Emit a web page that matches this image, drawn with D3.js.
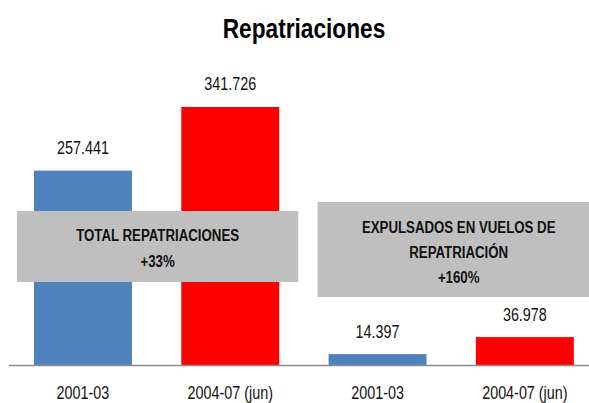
<!DOCTYPE html>
<html>
<head>
<meta charset="utf-8">
<script src="https://cdn.jsdelivr.net/npm/d3@7"></script>
<style>
  body { margin: 0; background: #fff; }
  svg { display: block; font-family: "Liberation Sans", Arial, sans-serif; }
</style>
</head>
<body>
<div id="chart"></div>
<script>
// Data
const categories = ["2001-03", "2004-07 (jun)", "2001-03", "2004-07 (jun)"];
const values = [257441, 341726, 14397, 36978];
const periods = ["2001-03", "2004-07", "2001-03", "2004-07"];
const boxLines = [
  ["TOTAL REPATRIACIONES", "+33%"],
  ["EXPULSADOS EN VUELOS DE", "REPATRIACIÓN", "+160%"]
];

const width = 589, height = 403;
const baseY = 365;
const narrow = 0.82; // fake "Arial Narrow" by squeezing Liberation Sans

const svg = d3.select("#chart")
  .append("svg")
  .attr("width", width)
  .attr("height", height);

// spanish number format 257.441
const es = d3.formatLocale({ decimal: ",", thousands: ".", grouping: [3], currency: ["", " €"] });
const fmt = es.format(",d");

const color = d3.scaleOrdinal()
  .domain(["2001-03", "2004-07"])
  .range(["#4F81BD", "#FF0000"]);

const xScale = d3.scaleBand()
  .domain(d3.range(categories.length))
  .range([9.3, 598.5])
  .paddingInner(0.335)
  .paddingOuter(0.1675);

const yScale = d3.scaleLinear()
  .domain([0, 400000])
  .range([baseY, baseY - 302]);

const place = (x, y, s = narrow) => `translate(${x},${y}) scale(${s},1)`;

// title
svg.append("text")
  .attr("transform", place(304, 37.5, 0.84))
  .attr("text-anchor", "middle")
  .style("font-size", "27px")
  .style("font-weight", "bold")
  .attr("fill", "#000")
  .text("Repatriaciones");

// bars
svg.append("g")
  .selectAll("rect")
  .data(values)
  .join("rect")
  .attr("x", (d, i) => xScale(i))
  .attr("y", d => yScale(d))
  .attr("width", xScale.bandwidth())
  .attr("height", d => baseY - yScale(d))
  .attr("fill", (d, i) => color(periods[i]));

// value labels
svg.append("g")
  .selectAll("text")
  .data(values)
  .join("text")
  .attr("transform", (d, i) => place(xScale(i) + xScale.bandwidth() / 2, yScale(d) - 16.5))
  .attr("text-anchor", "middle")
  .style("font-size", "17.5px")
  .attr("fill", "#111")
  .text(d => fmt(d));

// axis line + category labels
const xAxis = d3.axisBottom(xScale)
  .tickSize(0)
  .tickFormat(i => categories[i]);

const xGroup = svg.append("g")
  .attr("transform", `translate(0,${baseY})`)
  .call(xAxis);

xGroup.select(".domain")
  .attr("d", `M9,0.5H${width}`)
  .attr("stroke", "#8c8c8c")
  .attr("stroke-width", 1.5);

xGroup.selectAll("text")
  .attr("dy", 0)
  .attr("y", 34)
  .attr("transform", `scale(${narrow},1)`)
  .style("font-size", "17.5px")
  .style("font-family", "inherit")
  .attr("fill", "#111");

// annotation boxes (grey) - the second one runs off the right edge
const boxes = [
  { x0: xScale(0) - 17, x1: xScale(1) + xScale.bandwidth() + 19, y0: 211, y1: 282, first: 240.5, gap: 26 },
  { x0: xScale(2) - 11, x1: xScale(3) + xScale.bandwidth() + 26, y0: 202, y1: 297, first: 233, gap: 25 }
];

boxes.forEach((b, k) => {
  const g = svg.append("g");
  g.append("rect")
    .attr("x", b.x0)
    .attr("y", b.y0)
    .attr("width", b.x1 - b.x0)
    .attr("height", b.y1 - b.y0)
    .attr("fill", "#BFBFBF");
  g.selectAll("text")
    .data(boxLines[k])
    .join("text")
    .attr("transform", (d, i) => place((b.x0 + b.x1) / 2, b.first + i * b.gap, 0.78))
    .attr("text-anchor", "middle")
    .style("font-size", "17px")
    .style("font-weight", "bold")
    .attr("fill", "#111")
    .text(d => d);
});
</script>
</body>
</html>
